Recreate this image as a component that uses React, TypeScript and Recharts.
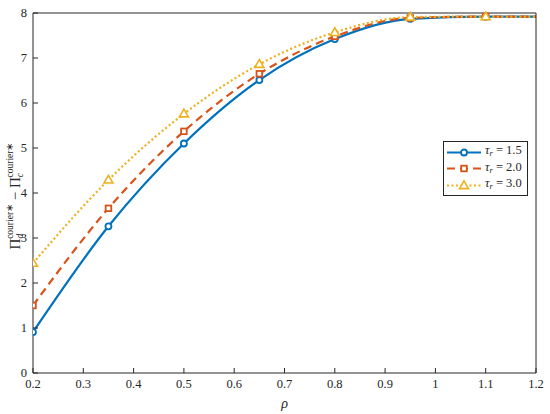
import { LineChart, Line, XAxis, YAxis, Legend } from "recharts";

// rho on the x axis; markers sit at the first seven points, the last one only closes the curve
const RHO = [0.2, 0.35, 0.5, 0.65, 0.8, 0.95, 1.1, 1.2];
const TAU_15 = [0.91, 3.26, 5.1, 6.51, 7.42, 7.87, 7.92, 7.92];
const TAU_20 = [1.5, 3.66, 5.37, 6.65, 7.48, 7.89, 7.92, 7.92];
const TAU_30 = [2.44, 4.29, 5.76, 6.86, 7.57, 7.91, 7.92, 7.92];
const HAS_MARKER = [true, true, true, true, true, true, true, false];

const X_TICKS = [0.2, 0.3, 0.4, 0.5, 0.6, 0.7, 0.8, 0.9, 1, 1.1, 1.2];
const Y_TICKS = [0, 1, 2, 3, 4, 5, 6, 7, 8];

const BLUE = "#0072BD";
const RED = "#D95319";
const YELLOW = "#EDB120";
const AXIS = "#262626";
const SERIF = "Liberation Serif";

const rows = RHO.map((rho, i) => ({
  rho,
  t15: TAU_15[i],
  t20: TAU_20[i],
  t30: TAU_30[i],
  marked: HAS_MARKER[i],
}));

type Shape = "circle" | "square" | "triangle";

function marker(shape: Shape, color: string, cx: number, cy: number, key?: string) {
  if (shape === "circle")
    return <circle key={key} cx={cx} cy={cy} r={3} fill="#fff" stroke={color} strokeWidth={1.8} />;
  if (shape === "square")
    return <rect key={key} x={cx - 2.8} y={cy - 2.8} width={5.6} height={5.6} fill="#fff" stroke={color} strokeWidth={1.8} />;
  return (
    <path
      key={key}
      d={`M${cx},${cy - 4.6} L${cx + 4.5},${cy + 3.1} L${cx - 4.5},${cy + 3.1} Z`}
      fill="#fff"
      stroke={color}
      strokeWidth={1.6}
    />
  );
}

const dotFor = (shape: Shape, color: string) => (props: any) => {
  const { cx, cy, payload, index } = props;
  if (!payload || !payload.marked) return <g key={`d-${shape}-${index}`} />;
  return marker(shape, color, cx, cy, `d-${shape}-${index}`);
};

const SERIES = [
  { label: "1.5", color: BLUE, shape: "circle" as Shape, dash: undefined },
  { label: "2.0", color: RED, shape: "square" as Shape, dash: "8 5" },
  { label: "3.0", color: YELLOW, shape: "triangle" as Shape, dash: "2 2.5" },
];

function LegendBox() {
  return (
    <div
      style={{
        border: `1px solid ${AXIS}`,
        background: "#fff",
        padding: "2px 3px 1px 2px",
        fontFamily: SERIF,
        fontSize: 12.5,
        color: AXIS,
        lineHeight: "13.5px",
        width: 78,
      }}
    >
      {SERIES.map((s) => (
        <div key={s.label} style={{ display: "flex", alignItems: "center", whiteSpace: "nowrap" }}>
          <svg width={36} height={13} style={{ marginRight: 3, flex: "none" }}>
            <line x1={1} y1={6.5} x2={35} y2={6.5} stroke={s.color} strokeWidth={2} strokeDasharray={s.dash} />
            {marker(s.shape, s.color, 18, 6.5)}
          </svg>
          <span>
            <i>τ</i>
            <sub style={{ fontSize: 8.5, fontStyle: "italic", verticalAlign: "-2px" }}>r</sub>
            {" = " + s.label}
          </span>
        </div>
      ))}
    </div>
  );
}

function YLabel(props: any) {
  const vb = props.viewBox || { x: 0, y: 13, height: 360 };
  const cx = 20;
  const cy = vb.y + vb.height / 2 + 3;
  return (
    <text
      x={cx}
      y={cy}
      transform={`rotate(-90, ${cx}, ${cy})`}
      textAnchor="middle"
      fill={AXIS}
      fontFamily={SERIF}
      fontSize={15}
    >
      <tspan>Π</tspan>
      <tspan fontSize={9.5} fontStyle="italic" dy={3}>d</tspan>
      <tspan fontSize={9.5} dx={-5} dy={-10}>courier∗</tspan>
      <tspan dy={7}> − Π</tspan>
      <tspan fontSize={9.5} fontStyle="italic" dy={3}>c</tspan>
      <tspan fontSize={9.5} dx={-4.5} dy={-10}>courier∗</tspan>
    </text>
  );
}

const fmtX = (v: number) => (v === 1 ? "1" : String(v));
const tickStyle = { fontFamily: SERIF, fontSize: 12.5, fill: AXIS };

export default function App() {
  return (
    <div
      style={{
        position: "absolute",
        left: 0,
        top: 0,
        width: 550,
        height: 414,
        background: "#fff",
        fontFamily: SERIF,
      }}
    >
      <LineChart width={550} height={414} data={rows} margin={{ top: 0, right: 0, bottom: 0, left: 0 }}>
        <XAxis
          xAxisId="bottom"
          dataKey="rho"
          type="number"
          domain={[0.2, 1.2]}
          ticks={X_TICKS}
          tickFormatter={fmtX}
          height={41}
          tickSize={-5}
          tickMargin={11}
          tick={tickStyle}
          axisLine={{ stroke: AXIS, strokeWidth: 1 }}
          tickLine={{ stroke: AXIS }}
          allowDataOverflow
          label={{
            value: "ρ",
            position: "insideBottom",
            offset: 6,
            style: { fontFamily: SERIF, fontSize: 14, fontStyle: "italic", fill: AXIS },
          }}
        />
        <XAxis
          xAxisId="top"
          orientation="top"
          type="number"
          dataKey="rho"
          domain={[0.2, 1.2]}
          ticks={X_TICKS}
          height={13}
          tick={false}
          tickSize={-5}
          axisLine={{ stroke: AXIS, strokeWidth: 1 }}
          tickLine={{ stroke: AXIS }}
        />
        <YAxis
          yAxisId="left"
          type="number"
          domain={[0, 8]}
          ticks={Y_TICKS}
          width={33}
          tickSize={-5}
          tickMargin={11}
          tick={tickStyle}
          axisLine={{ stroke: AXIS, strokeWidth: 1 }}
          tickLine={{ stroke: AXIS }}
          label={{ content: YLabel }}
        />
        <YAxis
          yAxisId="right"
          orientation="right"
          type="number"
          domain={[0, 8]}
          ticks={Y_TICKS}
          width={14}
          tick={false}
          tickSize={-5}
          axisLine={{ stroke: AXIS, strokeWidth: 1 }}
          tickLine={{ stroke: AXIS }}
        />
        <Line
          xAxisId="bottom"
          yAxisId="left"
          type="monotone"
          dataKey="t15"
          stroke={BLUE}
          strokeWidth={2.2}
          dot={dotFor("circle", BLUE)}
          activeDot={false}
          isAnimationActive={false}
        />
        <Line
          xAxisId="bottom"
          yAxisId="left"
          type="monotone"
          dataKey="t20"
          stroke={RED}
          strokeWidth={2.2}
          strokeDasharray="8 5"
          dot={dotFor("square", RED)}
          activeDot={false}
          isAnimationActive={false}
        />
        <Line
          xAxisId="bottom"
          yAxisId="left"
          type="monotone"
          dataKey="t30"
          stroke={YELLOW}
          strokeWidth={2.2}
          strokeDasharray="2 2.5"
          dot={dotFor("triangle", YELLOW)}
          activeDot={false}
          isAnimationActive={false}
        />
        <Legend
          layout="vertical"
          align="center"
          verticalAlign="middle"
          content={() => <LegendBox />}
          wrapperStyle={{ left: 443, top: 141, width: "auto" }}
        />
      </LineChart>
    </div>
  );
}
